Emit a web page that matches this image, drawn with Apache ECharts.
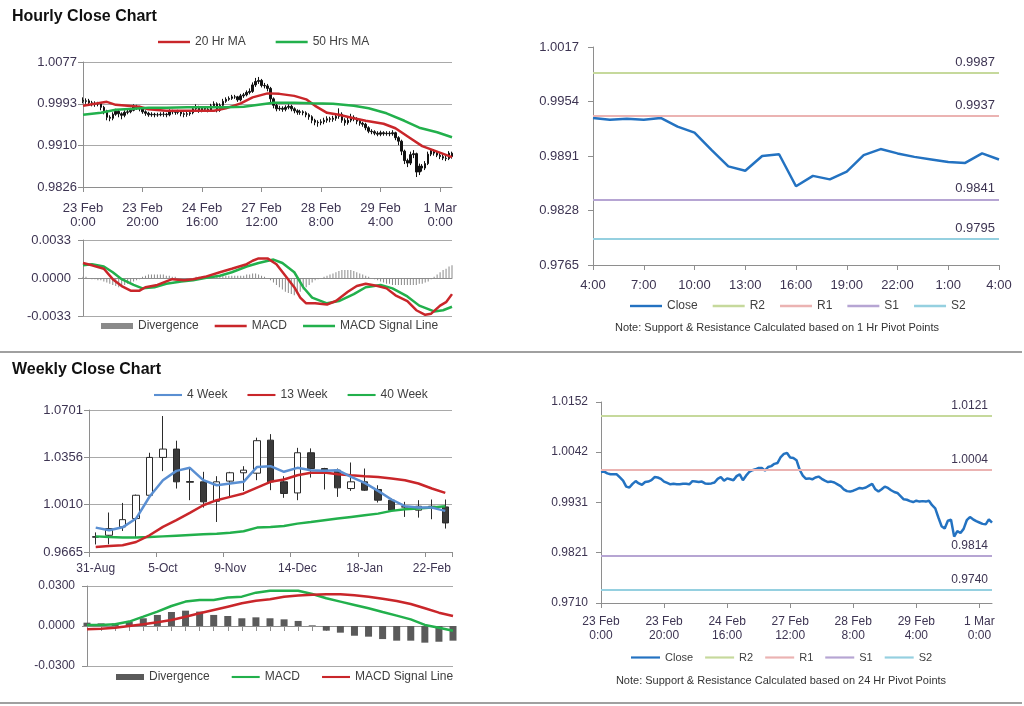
<!DOCTYPE html>
<html>
<head>
<meta charset="utf-8">
<script src="https://cdn.jsdelivr.net/npm/echarts@6/dist/echarts.min.js"></script>
<style>
html,body{margin:0;padding:0;background:#fff;width:1024px;height:706px;overflow:hidden;}
.layer{position:absolute;left:0;top:0;width:1024px;height:706px;}
.sep{position:absolute;left:0;width:1022px;height:0;border-top:2px solid #a0a0a0;}
</style>
</head>
<body>
<div class="sep" style="top:351px"></div>
<div class="sep" style="top:702px"></div>
<div id="cA" class="layer"></div>
<div id="cB" class="layer"></div>
<div id="cC" class="layer"></div>
<div id="cD" class="layer"></div>
<script>
// ---------------- DATA (hourly values in pips: 1 pip = 0.0001) ----------------
const hourTicks = ['23 Feb\n0:00','23 Feb\n20:00','24 Feb\n16:00','27 Feb\n12:00','28 Feb\n8:00','29 Feb\n4:00','1 Mar\n0:00'];
const hourOpen0 = 10000;
const hourlyClose = [
 9998,9999,9995,9993,9993,9993,9986,9979,9966,9964,
 9972,9978,9973,9970,9976,9977,9980,9987,9986,9983,
 9977,9974,9971,9972,9971,9971,9972,9972,9971,9978,
 9977,9976,9977,9973,9972,9973,9975,9983,9987,9979,
 9984,9982,9980,9989,9993,9980,9990,9998,10002,10004,
 10007,10007,10001,10009,10011,10016,10018,10031,10038,10040,
 10030,10029,10024,10003,9990,9983,9984,9982,9986,9988,
 9983,9979,9976,9977,9975,9971,9967,9960,9956,9955,
 9957,9960,9963,9962,9964,9968,9972,9960,9955,9960,
 9966,9963,9958,9954,9952,9945,9938,9937,9934,9932,
 9935,9933,9934,9933,9935,9925,9918,9898,9879,9874,
 9891,9893,9856,9868,9864,9873,9892,9899,9894,9890,
 9887,9884,9883,9894,9887];
const hourlyHigh = [
 10006,10004,10003,9999,9998,9997,9995,9989,9981,9970,
 9976,9983,9981,9976,9980,9983,9985,9992,9991,9989,
 9985,9980,9977,9976,9975,9975,9976,9977,9975,9982,
 9981,9980,9981,9979,9976,9977,9979,9988,9992,9989,
 9988,9987,9985,9993,9998,9996,9994,10003,10006,10008,
 10011,10011,10009,10013,10015,10020,10024,10036,10045,10047,
 10043,10035,10033,10027,10006,9993,9989,9988,9990,9992,
 9991,9986,9982,9981,9980,9978,9974,9970,9963,9960,
 9962,9965,9968,9967,9969,9974,9984,9976,9964,9966,
 9973,9970,9966,9961,9957,9955,9948,9942,9940,9938,
 9939,9938,9938,9938,9940,9937,9928,9921,9901,9883,
 9897,9900,9895,9873,9872,9878,9897,9903,9902,9898,
 9894,9892,9889,9898,9897];
const hourlyLow = [
 9994,9993,9990,9988,9987,9988,9980,9972,9960,9958,
 9960,9969,9966,9962,9966,9972,9974,9978,9981,9978,
 9973,9969,9967,9967,9966,9967,9968,9967,9966,9968,
 9972,9971,9972,9968,9966,9967,9969,9972,9980,9975,
 9976,9978,9976,9977,9986,9976,9977,9987,9995,9999,
 10001,10003,9997,9998,10005,10008,10012,10015,10027,10033,
 10026,10024,10018,9996,9984,9978,9979,9977,9978,9982,
 9978,9974,9971,9971,9970,9966,9961,9954,9950,9947,
 9950,9952,9955,9956,9957,9959,9963,9955,9949,9951,
 9956,9958,9952,9949,9947,9940,9934,9932,9930,9928,
 9928,9929,9929,9928,9929,9920,9910,9890,9872,9866,
 9870,9884,9846,9850,9857,9860,9870,9888,9889,9886,
 9882,9880,9878,9880,9883];
// moving averages read at sample hours: [hour index, pips]
const ma20 = [[0,9989],[4,9993],[8,9997],[11,9991],[15,9989],[19,9987],[22,9982],[28,9979],[34,9979],[39,9979],[44,9979],[48,9984],[53,9994],[57,10006],[62,10014],[66,10013],[71,10009],[75,10002],[78,9989],[82,9975],[86,9971],[91,9964],[95,9959],[101,9953],[105,9944],[110,9924],[114,9908],[119,9897],[124,9886]];
const ma50 = [[0,9971],[6,9975],[11,9981],[17,9983],[22,9985],[28,9985],[35,9986],[41,9986],[48,9986],[54,9987],[59,9991],[64,9995],[71,9995],[77,9994],[84,9993],[91,9989],[96,9984],[102,9974],[108,9959],[113,9945],[119,9936],[124,9926]];
// hourly MACD (pips) : [hour index, value]
const hMacd = [[0,13],[3,11],[7,8],[10,-1],[13,-7],[16,-11],[19,-11],[21,-8],[25,-6],[28,-3],[30,-1],[34,-2],[37,-1],[41,1],[46,5],[50,8],[55,12],[57,15],[59,17],[62,17],[65,12],[68,2],[71,-8],[73,-17],[75,-22],[78,-22],[82,-23],[85,-20],[89,-12],[92,-7],[95,-5],[99,-7],[102,-9],[105,-15],[109,-20],[112,-28],[115,-32],[117,-31],[120,-24],[122,-21],[124,-14]];
const hSignal = [[0,11],[3,12],[7,10],[10,5],[13,-1],[17,-6],[20,-9],[24,-8],[28,-5],[33,-3],[37,-2],[41,0],[46,2],[50,5],[55,10],[59,13],[64,16],[67,13],[71,5],[74,-8],[77,-17],[82,-22],[86,-20],[91,-14],[95,-8],[100,-6],[104,-9],[109,-16],[113,-24],[118,-29],[121,-28],[124,-25]];
const hDiv = [
 1,1,0,-1,-1,-2,-2,-3,-4,-5,
 -6,-7,-8,-7,-6,-5,-4,-3,-2,-1,
 1,2,3,3,3,3,3,3,2,2,
 1,1,0,0,-1,-1,0,0,1,1,
 1,1,1,2,2,2,2,2,2,2,
 2,2,2,2,2,3,3,4,4,3,
 2,1,0,-2,-4,-6,-8,-10,-12,-13,
 -14,-15,-14,-12,-10,-8,-6,-4,-2,-1,
 0,1,2,3,4,5,6,7,7,7,
 7,6,5,4,3,2,1,0,-1,-2,
 -3,-4,-5,-5,-6,-6,-6,-6,-6,-6,
 -6,-6,-6,-5,-5,-4,-3,-1,1,3,
 5,7,8,10,11];
const tlTicks = [0.9826, 0.9910, 0.9993, 1.0077];
const tlMacdTicks = [-0.0033, 0, 0.0033];

// top-right: last 25 hours (1 Hr pivots)
const trHours = ['4:00','5:00','6:00','7:00','8:00','9:00','10:00','11:00','12:00','13:00','14:00','15:00','16:00','17:00','18:00','19:00','20:00','21:00','22:00','23:00','0:00','1:00','2:00','3:00','4:00'];
const trTicks = [0.9765, 0.9828, 0.9891, 0.9954, 1.0017];
const levelNames = ['R2','R1','S1','S2'];
const trLevels = [0.9987, 0.9937, 0.9841, 0.9795];
const brLevels = [1.0121, 1.0004, 0.9814, 0.9740];
const brTicks = [0.9710, 0.9821, 0.9931, 1.0042, 1.0152];

// weekly
const weeks = ['31-Aug','7-Sep','14-Sep','21-Sep','28-Sep','5-Oct','12-Oct','19-Oct','26-Oct','2-Nov','9-Nov','16-Nov','23-Nov','30-Nov','7-Dec','14-Dec','21-Dec','28-Dec','4-Jan','11-Jan','18-Jan','25-Jan','1-Feb','8-Feb','15-Feb','22-Feb','29-Feb'];
const wOpen  = [0.9777,0.9787,0.9848,0.9909,1.0079,1.0355,1.0416,1.0179,1.0177,1.0035,1.0182,1.0243,1.0240,1.0481,1.0177,1.0096,1.0389,1.0274,1.0262,1.0128,1.0177,1.0121,1.0043,0.9995,0.9970,0.9999,0.9994];
const wClose = [0.9773,0.9836,0.9901,1.0079,1.0355,1.0416,1.0177,1.0174,1.0031,1.0177,1.0243,1.0262,1.0477,1.0177,1.0092,1.0389,1.0274,1.0257,1.0133,1.0177,1.0116,1.0043,0.9970,0.9993,0.9999,0.9989,0.9877];
const wLow   = [0.9720,0.9721,0.9818,0.9775,1.0067,1.0255,1.0128,1.0043,0.9989,0.9884,1.0067,1.0110,1.0189,1.0116,1.0060,1.0043,1.0208,1.0121,1.0067,1.0111,1.0111,1.0026,0.9965,0.9921,0.9916,0.9904,0.9836];
const wHigh  = [0.9808,0.9953,1.0023,1.0084,1.0389,1.0657,1.0477,1.0274,1.0250,1.0218,1.0250,1.0291,1.0499,1.0525,1.0218,1.0425,1.0421,1.0279,1.0274,1.0318,1.0274,1.0152,1.0055,1.0031,1.0043,1.0048,1.0048];
const w4  = [0.9843,0.9823,0.9845,0.9909,1.0068,1.0189,1.0257,1.0279,1.0189,1.0152,1.0165,1.0177,1.0286,1.0291,1.0250,1.0279,1.0262,1.0257,1.0262,1.0213,1.0169,1.0111,1.0048,0.9999,0.9989,0.9989,0.9965];
const w13 = [0.9702,0.9709,0.9714,0.9738,0.9787,0.9848,0.9897,0.9950,1.0006,1.0043,1.0067,1.0092,1.0135,1.0177,1.0194,1.0225,1.0243,1.0245,1.0233,1.0225,1.0218,1.0213,1.0201,1.0189,1.0165,1.0128,1.0096];
const w40 = [0.9779,0.9774,0.9770,0.9770,0.9774,0.9779,0.9784,0.9789,0.9794,0.9799,0.9806,0.9816,0.9843,0.9848,0.9855,0.9872,0.9884,0.9897,0.9909,0.9921,0.9933,0.9945,0.9965,0.9977,0.9982,0.9989,0.9999];
const wMacd   = [0.0008,0.0008,0.0013,0.0033,0.0070,0.0108,0.0150,0.0183,0.0195,0.0195,0.0213,0.0220,0.0250,0.0265,0.0265,0.0265,0.0240,0.0208,0.0183,0.0158,0.0133,0.0105,0.0078,0.0050,0.0008,-0.0013,-0.0035];
const wSignal = [-0.0025,-0.0020,-0.0013,0.0000,0.0013,0.0028,0.0045,0.0070,0.0095,0.0120,0.0145,0.0170,0.0190,0.0200,0.0220,0.0228,0.0235,0.0238,0.0238,0.0230,0.0220,0.0205,0.0188,0.0165,0.0133,0.0100,0.0075];
const wDiv    = [0.0025,0.0020,0.0020,0.0033,0.0058,0.0083,0.0105,0.0115,0.0108,0.0083,0.0075,0.0058,0.0065,0.0058,0.0050,0.0038,0.0005,-0.0035,-0.0050,-0.0073,-0.0080,-0.0098,-0.0110,-0.0110,-0.0125,-0.0118,-0.0110];
const wTicks = [0.9665, 1.0010, 1.0356, 1.0701];
const wMacdTicks = [-0.03, 0, 0.03];

// ---------------- STYLE / HELPERS ----------------
const FONT = '"Liberation Sans", Arial, sans-serif';
const LBL = '#3d3452';
const TXT = '#404040';
const AX = '#8e8e8e';
const GRD = '#a9a9a9';
const RED = '#c9262a';
const GREEN = '#22b04c';
const BLUE = '#2372c1';
const levelColors = ['#c6d99c', '#ebb3b2', '#b6a5d3', '#95d0e0'];
const LINE_ICON = 'path://M0 0H40V3H0Z';
const P = v => v / 10000;

function vAxis(grid, min, max, ticks, o) {
  o = o || {};
  return {
    type: 'value', gridIndex: grid, min: min, max: max,
    axisLine: {show: true, onZero: false, lineStyle: {color: AX, width: 1}},
    axisTick: {show: true, customValues: ticks, length: 5, lineStyle: {color: AX}},
    axisLabel: {customValues: ticks, formatter: v => v.toFixed(4), color: LBL, fontSize: o.fs || 12, fontFamily: FONT, margin: o.margin || 8},
    splitLine: {show: !!o.split, lineStyle: {color: GRD, width: 1}}
  };
}
function cAxis(grid, data, o) {
  return {
    type: 'category', gridIndex: grid, data: data, boundaryGap: !!o.gap,
    axisLine: {show: true, onZero: !!o.onZero, lineStyle: {color: AX, width: 1}},
    axisTick: {show: o.tick !== false, interval: o.interval, length: 5, lineStyle: {color: AX}},
    axisLabel: {show: o.label !== false, interval: o.interval, formatter: o.fmt, color: LBL, fontSize: o.fs || 12, lineHeight: o.lh, margin: o.margin || 8, fontFamily: FONT},
    splitLine: {show: false}
  };
}
function legendCfg(names, left, top, o) {
  o = o || {};
  return {data: names.map(n => (n === 'Divergence' ? {name: n, icon: 'rect'} : {name: n, icon: LINE_ICON})),
    left: left, top: top, orient: 'horizontal', padding: 0,
    itemWidth: o.w || 32, itemHeight: o.h || 6, itemGap: o.gap || 16, selectedMode: false,
    textStyle: {fontSize: o.fs || 12, color: TXT, fontFamily: FONT}};
}
function lineS(name, data, color, xi, yi) {
  return {name: name, type: 'line', data: data, xAxisIndex: xi, yAxisIndex: yi, symbol: 'none', showSymbol: false, smooth: false,
    lineStyle: {color: color, width: 2.5}, itemStyle: {color: color}, z: 3};
}
function levelS(name, value, color, fs) {
  return {name: name, type: 'line', data: [], symbol: 'none', lineStyle: {color: color, width: 2}, itemStyle: {color: color},
    markLine: {symbol: ['none', 'none'], silent: true, animation: false, precision: 4,
      lineStyle: {color: color, width: 2, type: 'solid'},
      label: {show: true, position: 'insideEndTop', distance: [4, 4], formatter: p => Number(p.value).toFixed(4), color: LBL, fontSize: fs, fontFamily: FONT},
      data: [{yAxis: value}]}};
}
function mk(id, opt) {
  const c = echarts.init(document.getElementById(id), null, {renderer: 'canvas', width: 1024, height: 706});
  c.setOption(opt);
}
const hourCats = hourlyClose.map((_, i) => String(i));
const hourFmt = (v, i) => hourTicks[Math.round(i / 20)];

// ---------------- PANEL A: hourly candles + MACD ----------------
mk('cA', {
  animation: false,
  graphic: [{type: 'text', x: 12, y: 17, style: {text: 'Hourly Close Chart', font: 'bold 16px ' + FONT, fill: '#111', verticalAlign: 'middle'}}],
  legend: [
    legendCfg(['20 Hr MA', '50 Hrs MA'], 158, 36, {gap: 30}),
    legendCfg(['Divergence', 'MACD', 'MACD Signal Line'], 101, 320, {gap: 16})
  ],
  grid: [{left: 83, top: 62, width: 369, height: 125}, {left: 83, top: 240, width: 369, height: 76}],
  xAxis: [
    cAxis(0, hourCats, {interval: 19, fmt: hourFmt, fs: 13, lh: 14, margin: 14}),
    cAxis(1, hourCats, {onZero: true, tick: false, label: false})
  ],
  yAxis: [
    vAxis(0, tlTicks[0], tlTicks[3], tlTicks, {split: true, fs: 13, margin: 6}),
    vAxis(1, tlMacdTicks[0], tlMacdTicks[2], tlMacdTicks, {split: true, fs: 13, margin: 12})
  ],
  series: [
    {name: 'Hourly', type: 'candlestick', xAxisIndex: 0, yAxisIndex: 0, barWidth: 2,
      data: hourlyClose.map((c, i) => [P(i ? hourlyClose[i - 1] : hourOpen0), P(c), P(hourlyLow[i]), P(hourlyHigh[i])]),
      itemStyle: {color: '#111', color0: '#111', borderColor: '#111', borderColor0: '#111', borderWidth: 1}},
    lineS('20 Hr MA', ma20.map(d => [d[0], P(d[1])]), RED, 0, 0),
    lineS('50 Hrs MA', ma50.map(d => [d[0], P(d[1])]), GREEN, 0, 0),
    {name: 'Divergence', type: 'bar', xAxisIndex: 1, yAxisIndex: 1, barWidth: 1, data: hDiv.map(P), itemStyle: {color: '#8a8a8a'}},
    lineS('MACD Signal Line', hSignal.map(d => [d[0], P(d[1])]), GREEN, 1, 1),
    lineS('MACD', hMacd.map(d => [d[0], P(d[1])]), RED, 1, 1)
  ]
});

// ---------------- PANEL B: last 25 hours with 1 Hr pivots ----------------
mk('cB', {
  animation: false,
  graphic: [{type: 'text', x: 777, y: 328, style: {text: 'Note: Support & Resistance Calculated based on 1 Hr Pivot Points', font: '11px ' + FONT, fill: '#333', align: 'center', verticalAlign: 'middle'}}],
  legend: [legendCfg(['Close'].concat(levelNames), 630, 300, {gap: 15, w: 32})],
  grid: [{left: 593, top: 47, width: 406, height: 218}],
  xAxis: [cAxis(0, trHours, {interval: 2, fs: 13, margin: 14})],
  yAxis: [vAxis(0, trTicks[0], trTicks[4], trTicks, {split: false, fs: 13, margin: 14})],
  series: [lineS('Close', hourlyClose.slice(100).map(P), BLUE, 0, 0)]
    .concat(levelNames.map((n, k) => levelS(n, trLevels[k], levelColors[k], 13)))
});

// ---------------- PANEL C: weekly candles + MACD ----------------
mk('cC', {
  animation: false,
  graphic: [{type: 'text', x: 12, y: 370, style: {text: 'Weekly Close Chart', font: 'bold 16px ' + FONT, fill: '#111', verticalAlign: 'middle'}}],
  legend: [
    legendCfg(['4 Week', '13 Week', '40 Week'], 154, 389, {gap: 20, w: 28}),
    legendCfg(['Divergence', 'MACD', 'MACD Signal Line'], 116, 671, {gap: 22, w: 28})
  ],
  grid: [{left: 89, top: 410, width: 363, height: 142}, {left: 87, top: 586, width: 366, height: 80}],
  xAxis: [
    cAxis(0, weeks, {gap: true, interval: 4, fs: 12, margin: 11}),
    cAxis(1, weeks, {onZero: true, interval: 0, label: false})
  ],
  yAxis: [
    vAxis(0, wTicks[0], wTicks[3], wTicks, {split: true, fs: 13, margin: 6}),
    vAxis(1, wMacdTicks[0], wMacdTicks[2], wMacdTicks, {split: true, fs: 12, margin: 12})
  ],
  series: [
    {name: 'Weekly', type: 'candlestick', xAxisIndex: 0, yAxisIndex: 0, barWidth: 7,
      data: weeks.map((_, i) => [wOpen[i], wClose[i], wLow[i], wHigh[i]]),
      itemStyle: {color: '#ffffff', color0: '#3a3a3a', borderColor: '#2b2b2b', borderColor0: '#2b2b2b', borderWidth: 1}},
    lineS('40 Week', w40, GREEN, 0, 0),
    lineS('13 Week', w13, RED, 0, 0),
    lineS('4 Week', w4, '#5a8fd2', 0, 0),
    {name: 'Divergence', type: 'bar', xAxisIndex: 1, yAxisIndex: 1, barWidth: 7, data: wDiv, itemStyle: {color: '#5a5a5a'}},
    lineS('MACD', wMacd, GREEN, 1, 1),
    lineS('MACD Signal Line', wSignal, RED, 1, 1)
  ]
});

// ---------------- PANEL D: hourly close with 24 Hr pivots ----------------
mk('cD', {
  animation: false,
  graphic: [{type: 'text', x: 781, y: 681, style: {text: 'Note: Support & Resistance Calculated based on 24 Hr Pivot Points', font: '11px ' + FONT, fill: '#333', align: 'center', verticalAlign: 'middle'}}],
  legend: [legendCfg(['Close'].concat(levelNames), 631, 652, {gap: 12, w: 29, fs: 11})],
  grid: [{left: 601, top: 402, width: 391, height: 201}],
  xAxis: [cAxis(0, hourCats, {interval: 19, fmt: hourFmt, fs: 12, lh: 13.5, margin: 12})],
  yAxis: [vAxis(0, brTicks[0], brTicks[4], brTicks, {split: false, fs: 12, margin: 13})],
  series: [lineS('Close', hourlyClose.map(P), BLUE, 0, 0)]
    .concat(levelNames.map((n, k) => levelS(n, brLevels[k], levelColors[k], 12)))
});
</script>
</body>
</html>
